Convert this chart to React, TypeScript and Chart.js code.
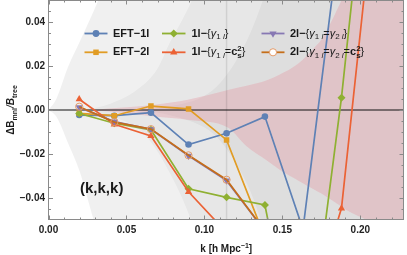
import React, { useEffect, useRef } from 'react';
import { Chart, registerables } from 'chart.js';

Chart.register(...registerables);

// ---------------- data ----------------
const kBins = [0.0197, 0.0422, 0.0657, 0.0898, 0.1142, 0.1388, 0.1632, 0.1879, 0.2125];
const eft1lValues = [-0.0023, -0.0026, -0.0012, -0.0157, -0.0106, -0.003, -0.0542, 0.085, 0.11];
const eft2lValues = [-0.0015, -0.0026, 0.0018, 0.0005, -0.0136, -0.058];
const oneLoopGammaValues = [-0.0016, -0.006, -0.009, -0.0358, -0.0397, -0.0432, -0.13, 0.0056, 0.169];
const oneLoopGammaCsValues = [0.0049, -0.0065, -0.0118, -0.0372, -0.0557, -0.08, -0.1015, -0.0447, 0.118];
const twoLoopGammaValues = [0.0012, -0.0053, -0.0088, -0.0208, -0.0321, -0.055];
const twoLoopGammaCsValues = [0.0015, -0.0055, -0.0087, -0.0206, -0.0317, -0.055];
const kNonlinear = 0.1142;

// error bands (upper / lower edges)
const band1K = [0, 0.005, 0.0125, 0.02, 0.029, 0.032, 0.06, 0.228];
const band1Upper = [0, 0.005, 0.0195, 0.031, 0.045, 0.05, 0.1, 0.4];
const band1Lower = [0, -0.003, -0.015, -0.028, -0.05, -0.056, -0.1, -0.4];

const band2K = [0, 0.02, 0.04, 0.06, 0.07, 0.078, 0.085, 0.092, 0.1, 0.228];
const band2Upper = [0, 0.0003, 0.003, 0.011, 0.019, 0.031, 0.04, 0.05, 0.065, 0.6];
const band2Lower = [0, -0.0003, -0.003, -0.01, -0.019, -0.029, -0.039, -0.051, -0.066, -0.6];

const band3K = [0, 0.06, 0.08, 0.1, 0.11, 0.12, 0.13, 0.1375, 0.15, 0.228];
const band3Upper = [0, 0.0003, 0.002, 0.0065, 0.0123, 0.022, 0.036, 0.05, 0.078, 0.6];
const band3Lower = [0, -0.0005, -0.0028, -0.008, -0.014, -0.024, -0.038, -0.053, -0.08, -0.6];

const pinkK = [0.027, 0.05, 0.067, 0.09, 0.115, 0.127, 0.14, 0.148, 0.16, 0.17, 0.175, 0.188, 0.191, 0.204, 0.228];
const pinkUpper = [0, 0.0012, 0.0023, 0.0048, 0.0091, 0.011, 0.0135, 0.016, 0.021, 0.028, 0.032, 0.05, 0.055, 0.075, 0.12];
const pinkLower = [0, -0.0015, -0.0028, -0.0045, -0.008, -0.0165, -0.023, -0.027, -0.032, -0.036, -0.038, -0.044, -0.0455, -0.05, -0.058];

// axes
const X_MIN = 0;
const X_MAX = 0.228;
const Y_MIN = -0.05;
const Y_MAX = 0.05;
const xTickLabels = [0, 0.05, 0.1, 0.15, 0.2];
const yTickLabels = [-0.04, -0.02, 0, 0.02, 0.04];
const xMinorTicks = [0.01, 0.02, 0.03, 0.04, 0.06, 0.07, 0.08, 0.09, 0.11, 0.12, 0.13, 0.14, 0.16, 0.17, 0.18, 0.19, 0.21, 0.22];
const yMinorTicks = [-0.045, -0.035, -0.03, -0.025, -0.015, -0.01, -0.005, 0.005, 0.01, 0.015, 0.025, 0.03, 0.035, 0.045];

// ---------------- styling ----------------
const FONT = '"Liberation Sans", Arial, sans-serif';
const C_BLUE = '#5E81B5';
const C_ORANGE = '#E19C24';
const C_GREEN = '#8FB032';
const C_RED = '#EB6235';
const C_PURPLE = '#8778B3';
const C_BROWN = '#C56E1A';
const C_OPEN = '#E39A68';

type Seg = { t: string; f: string; dy?: number; noAdv?: boolean };

const FB = `bold 11px ${FONT}`;
const FR = `11px ${FONT}`;
const FI = `italic 11px ${FONT}`;
const FS = `8px ${FONT}`;
const FSI = `italic 8px ${FONT}`;
const FSB = `bold 8px ${FONT}`;

const gammaSub = (n: string): Seg[] => [
  { t: 'γ', f: FI },
  { t: n + ' ', f: FS, dy: 3 },
  { t: 'l', f: FSI, dy: 3 },
];
const csSq: Seg[] = [
  { t: 'c', f: FB },
  { t: 's', f: FSB, dy: 3.5, noAdv: true },
  { t: '2', f: FSB, dy: -4 },
];

const legendItems = [
  { col: 0, row: 0, color: C_BLUE, marker: 'circle', r: 3.4, segs: [{ t: 'EFT−1l', f: FB }] as Seg[] },
  { col: 0, row: 1, color: C_ORANGE, marker: 'rect', r: 3.9, segs: [{ t: 'EFT−2l', f: FB }] as Seg[] },
  { col: 1, row: 0, color: C_GREEN, marker: 'rectRot', r: 4, segs: [{ t: '1l−', f: FB }, { t: '{', f: FR }, ...gammaSub('1'), { t: '}', f: FR }] as Seg[] },
  { col: 1, row: 1, color: C_RED, marker: 'triangle', r: 4.2, segs: [{ t: '1l−', f: FB }, { t: '{', f: FR }, ...gammaSub('1'), { t: '=', f: FR }, ...csSq, { t: '}', f: FR }] as Seg[] },
  { col: 2, row: 0, color: C_PURPLE, marker: 'triangleDown', r: 4.2, segs: [{ t: '2l−', f: FB }, { t: '{', f: FR }, ...gammaSub('1'), { t: '=', f: FR }, ...gammaSub('2'), { t: '}', f: FR }] as Seg[] },
  { col: 2, row: 1, color: C_BROWN, marker: 'open', r: 3.6, segs: [{ t: '2l−', f: FB }, { t: '{', f: FR }, ...gammaSub('1'), { t: '=', f: FR }, ...gammaSub('2'), { t: '=', f: FR }, ...csSq, { t: '}', f: FR }] as Seg[] },
];
const legendCols = [
  { x0: 84.5, x1: 107.5, tx: 113 },
  { x0: 162, x1: 185.5, tx: 191.5 },
  { x0: 261.5, x1: 284.5, tx: 290 },
];
const legendRows = [33.5, 52.3];

function measureRich(ctx: CanvasRenderingContext2D, segs: Seg[]) {
  let w = 0;
  for (const s of segs) {
    ctx.font = s.f;
    if (!s.noAdv) w += ctx.measureText(s.t).width;
  }
  return w;
}
function drawRich(ctx: CanvasRenderingContext2D, segs: Seg[], x: number, y: number) {
  let cx = x;
  for (const s of segs) {
    ctx.font = s.f;
    ctx.fillText(s.t, cx, y + (s.dy || 0));
    if (!s.noAdv) cx += ctx.measureText(s.t).width;
  }
  return cx;
}

function drawMarker(ctx: CanvasRenderingContext2D, shape: string, x: number, y: number, r: number, color: string) {
  ctx.save();
  ctx.beginPath();
  if (shape === 'circle' || shape === 'open') ctx.arc(x, y, r, 0, Math.PI * 2);
  else if (shape === 'rect') {
    const s = r * Math.SQRT1_2;
    ctx.rect(x - s, y - s, 2 * s, 2 * s);
  } else if (shape === 'rectRot') {
    ctx.moveTo(x, y - r); ctx.lineTo(x + r, y); ctx.lineTo(x, y + r); ctx.lineTo(x - r, y); ctx.closePath();
  } else if (shape === 'triangle') {
    ctx.moveTo(x, y - r); ctx.lineTo(x + r * 0.866, y + r * 0.5); ctx.lineTo(x - r * 0.866, y + r * 0.5); ctx.closePath();
  } else if (shape === 'triangleDown') {
    ctx.moveTo(x, y + r); ctx.lineTo(x + r * 0.866, y - r * 0.5); ctx.lineTo(x - r * 0.866, y - r * 0.5); ctx.closePath();
  }
  if (shape === 'open') {
    ctx.fillStyle = '#ffffff';
    ctx.fill();
    ctx.strokeStyle = C_OPEN;
    ctx.lineWidth = 1;
    ctx.stroke();
  } else {
    ctx.fillStyle = color;
    ctx.fill();
  }
  ctx.restore();
}

const decorPlugin = {
  id: 'decor',
  afterDatasetsDraw(chart: any) {
    const { ctx, chartArea: a, scales } = chart;
    const xs = scales.x;
    const ys = scales.y;
    ctx.save();
    // frame
    ctx.strokeStyle = '#8a8a8a';
    ctx.lineWidth = 1;
    ctx.strokeRect(a.left, a.top + 0.5, a.right - a.left - 0.5, a.bottom - a.top - 1);
    // ticks
    const tick = (vals: number[], len: number, horiz: boolean) => {
      ctx.beginPath();
      for (const v of vals) {
        if (horiz) {
          const px = Math.round(xs.getPixelForValue(v)) + 0.5;
          ctx.moveTo(px, a.bottom); ctx.lineTo(px, a.bottom - len);
          ctx.moveTo(px, a.top); ctx.lineTo(px, a.top + len);
        } else {
          const py = Math.round(ys.getPixelForValue(v)) + 0.5;
          ctx.moveTo(a.left, py); ctx.lineTo(a.left + len, py);
          ctx.moveTo(a.right, py); ctx.lineTo(a.right - len, py);
        }
      }
      ctx.stroke();
    };
    tick(xTickLabels, 4.5, true);
    tick(xMinorTicks, 2.5, true);
    tick(yTickLabels, 4.5, false);
    tick(yMinorTicks, 2.5, false);
    ctx.restore();
  },
  afterDraw(chart: any) {
    const { ctx, chartArea: a } = chart;
    ctx.save();
    ctx.fillStyle = '#1a1a1a';
    ctx.textBaseline = 'middle';
    // legend
    for (const it of legendItems) {
      const c = legendCols[it.col];
      const y = legendRows[it.row];
      ctx.strokeStyle = it.color;
      ctx.lineWidth = 1.8;
      ctx.beginPath();
      ctx.moveTo(c.x0, y); ctx.lineTo(c.x1, y);
      ctx.stroke();
      drawMarker(ctx, it.marker, (c.x0 + c.x1) / 2, y, it.r, it.color);
      ctx.fillStyle = '#1a1a1a';
      drawRich(ctx, it.segs, c.tx, y);
    }
    // (k,k,k)
    ctx.font = `bold 15px ${FONT}`;
    ctx.textAlign = 'center';
    ctx.fillText('(k,k,k)', 101.7, 188.5);
    ctx.textAlign = 'left';
    // x title
    ctx.textBaseline = 'alphabetic';
    const xt: Seg[] = [
      { t: 'k [h Mpc', f: `bold 10px ${FONT}` },
      { t: '−1', f: `bold 7px ${FONT}`, dy: -4 },
      { t: ']', f: `bold 10px ${FONT}` },
    ];
    const xw = measureRich(ctx, xt);
    drawRich(ctx, xt, (a.left + a.right) / 2 - xw / 2, 252);
    // y title
    const yt: Seg[] = [
      { t: 'ΔB', f: `bold 10px ${FONT}` },
      { t: 'mnl', f: `bold 7px ${FONT}`, dy: 2.5 },
      { t: '/', f: `italic 10px ${FONT}` },
      { t: 'B', f: `bold italic 10px ${FONT}` },
      { t: 'tree', f: `bold 7px ${FONT}`, dy: 2.5 },
    ];
    const yw = measureRich(ctx, yt);
    ctx.translate(14, (a.top + a.bottom) / 2);
    ctx.rotate(-Math.PI / 2);
    drawRich(ctx, yt, -yw / 2, 0);
    ctx.restore();
  },
};

function pts(ks: number[], vs: number[]) {
  return vs.map((v, i) => ({ x: ks[i], y: v }));
}

function bandPair(name: string, ks: number[], up: number[], lo: number[], color: string, order: number) {
  const common = {
    type: 'line' as const,
    borderColor: 'rgba(0,0,0,0)',
    borderWidth: 0,
    pointRadius: 0,
    cubicInterpolationMode: 'monotone' as const,
    order,
  };
  return [
    { ...common, label: name + ' upper', data: pts(ks, up), fill: false },
    { ...common, label: name + ' lower', data: pts(ks, lo), fill: '-1', backgroundColor: color },
  ];
}

function series(label: string, values: number[], color: string, shape: string, r: number, order: number) {
  const open = shape === 'open';
  return {
    type: 'line' as const,
    label,
    data: pts(kBins, values),
    borderColor: color,
    backgroundColor: color,
    borderWidth: 1.7,
    pointStyle: open ? 'circle' : shape === 'triangleDown' ? 'triangle' : shape,
    pointRotation: shape === 'triangleDown' ? 180 : 0,
    pointRadius: r,
    pointBackgroundColor: open ? 'rgba(255,255,255,0)' : color,
    pointBorderColor: open ? C_OPEN : color,
    pointBorderWidth: open ? 1 : 0,
    fill: false,
    clip: 0,
    order,
  };
}

export default function App() {
  const ref = useRef<HTMLCanvasElement | null>(null);
  useEffect(() => {
    if (!ref.current) return;
    const datasets: any[] = [
      series('EFT−1l', eft1lValues, C_BLUE, 'circle', 3.3, 6),
      series('EFT−2l', eft2lValues, C_ORANGE, 'rect', 3.9, 5),
      series('1l−{γ1l}', oneLoopGammaValues, C_GREEN, 'rectRot', 4, 4),
      series('1l−{γ1l=cs²}', oneLoopGammaCsValues, C_RED, 'triangle', 4.2, 3),
      series('2l−{γ1l=γ2l}', twoLoopGammaValues, C_PURPLE, 'triangleDown', 4.2, 2),
      series('2l−{γ1l=γ2l=cs²}', twoLoopGammaCsValues, C_BROWN, 'open', 3.6, 1),
      {
        type: 'line', label: 'zero', data: [{ x: X_MIN, y: 0 }, { x: X_MAX, y: 0 }],
        borderColor: '#111', borderWidth: 1, pointRadius: 0, fill: false, order: 20,
      },
      {
        type: 'line', label: 'knl', data: [{ x: kNonlinear, y: Y_MIN }, { x: kNonlinear, y: Y_MAX }],
        borderColor: 'rgba(0,0,0,0.1)', borderWidth: 1.5, pointRadius: 0, fill: false, order: 30,
      },
      ...bandPair('band1', band1K, band1Upper, band1Lower, 'rgba(0,0,0,0.058)', 40),
      ...bandPair('band2', band2K, band2Upper, band2Lower, 'rgba(0,0,0,0.038)', 39),
      ...bandPair('band3', band3K, band3Upper, band3Lower, 'rgba(0,0,0,0.04)', 38),
      ...bandPair('pink', pinkK, pinkUpper, pinkLower, 'rgba(228,150,160,0.36)', 37),
    ];
    const chart = new Chart(ref.current, {
      type: 'line',
      data: { datasets },
      plugins: [decorPlugin],
      options: {
        animation: false,
        responsive: false,
        devicePixelRatio: 1,
        layout: { autoPadding: false, padding: { left: 0, right: 3, top: 0, bottom: 0 } },
        plugins: { legend: { display: false }, tooltip: { enabled: false } },
        elements: { line: { tension: 0 } },
        scales: {
          x: {
            type: 'linear',
            min: X_MIN,
            max: X_MAX,
            grid: { display: false, drawTicks: false },
            border: { display: false },
            afterBuildTicks: (s: any) => { s.ticks = xTickLabels.map((v) => ({ value: v })); },
            afterFit: (s: any) => { s.height = 35; s.paddingLeft = 0; s.paddingRight = 0; },
            ticks: {
              padding: 4,
              color: '#222',
              font: { family: FONT, size: 10, weight: 'bold' },
              callback: (v: any) => Number(v).toFixed(2),
            },
          },
          y: {
            type: 'linear',
            min: Y_MIN,
            max: Y_MAX,
            grid: { display: false, drawTicks: false },
            border: { display: false },
            afterBuildTicks: (s: any) => { s.ticks = yTickLabels.map((v) => ({ value: v })); },
            afterFit: (s: any) => { s.width = 48.5; s.paddingTop = 0; s.paddingBottom = 0; },
            ticks: {
              padding: 3.5,
              color: '#222',
              font: { family: FONT, size: 10, weight: 'bold' },
              callback: (v: any) => (Number(v) < 0 ? '−' : '') + Math.abs(Number(v)).toFixed(2),
            },
          },
        },
      } as any,
    });
    return () => chart.destroy();
  }, []);
  return (
    <div style={{ position: 'absolute', left: 0, top: 0, width: 407, height: 255, background: '#fff' }}>
      <canvas ref={ref} width={407} height={255} style={{ display: 'block' }} />
    </div>
  );
}
